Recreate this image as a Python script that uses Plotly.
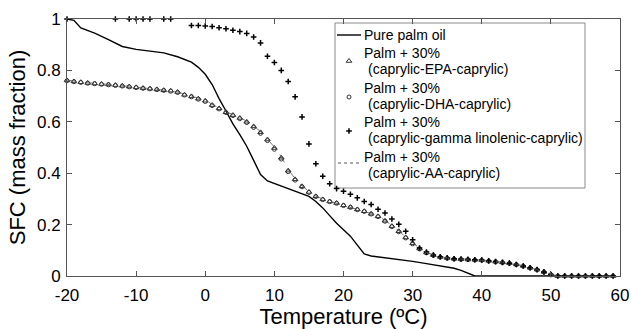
import plotly.graph_objects as go

# Temperature grid (°C) shared by the structured-lipid blends
temps = list(range(-20, 60))

# Pure palm oil solid fat content
palm_temps = [-20, -19, -18, -16, -14, -12, -10, -8, -6, -4, -2, -1, 0, 1, 2, 3, 4, 5,
              6, 7, 8, 9, 10, 12, 14, 15, 16, 17, 18, 19, 20, 21, 22, 23, 24, 26, 28,
              30, 32, 34, 36, 37, 38, 39, 45, 59]
palm_sfc = [1.0, 0.995, 0.965, 0.945, 0.92, 0.893, 0.882, 0.876, 0.868, 0.853, 0.832,
            0.812, 0.785, 0.745, 0.69, 0.642, 0.592, 0.55, 0.505, 0.45, 0.395, 0.37,
            0.36, 0.34, 0.322, 0.31, 0.29, 0.265, 0.235, 0.205, 0.18, 0.155, 0.12,
            0.086, 0.078, 0.072, 0.064, 0.057, 0.048, 0.04, 0.03, 0.022, 0.01, 0.0,
            0.0, 0.0]

# Palm + 30% caprylic-EPA-caprylic
epa_sfc = [0.761, 0.757, 0.754, 0.751, 0.749, 0.747, 0.745, 0.743, 0.740, 0.737,
           0.734, 0.731, 0.729, 0.726, 0.723, 0.721, 0.716, 0.705, 0.699, 0.690,
           0.682, 0.665, 0.652, 0.637, 0.626, 0.615, 0.600, 0.582, 0.559, 0.531,
           0.498, 0.460, 0.410, 0.376, 0.349, 0.327, 0.310, 0.298, 0.290, 0.284,
           0.275, 0.268, 0.259, 0.252, 0.242, 0.232, 0.215, 0.194, 0.174, 0.150,
           0.127, 0.107, 0.091, 0.081, 0.074, 0.070, 0.067, 0.065, 0.064, 0.063,
           0.062, 0.059, 0.056, 0.053, 0.050, 0.045, 0.039, 0.032, 0.025, 0.016,
           0.006, 0.0, 0.0, 0.0, 0.0, 0.0, 0.0, 0.0, 0.0, 0.0]

# Palm + 30% caprylic-DHA-caprylic
dha_sfc = [0.760, 0.756, 0.753, 0.750, 0.748, 0.746, 0.744, 0.741, 0.739, 0.736,
           0.733, 0.730, 0.728, 0.725, 0.722, 0.719, 0.714, 0.704, 0.697, 0.688,
           0.679, 0.663, 0.650, 0.636, 0.624, 0.612, 0.597, 0.578, 0.555, 0.527,
           0.493, 0.455, 0.406, 0.373, 0.347, 0.325, 0.309, 0.297, 0.289, 0.283,
           0.274, 0.267, 0.258, 0.251, 0.241, 0.231, 0.213, 0.192, 0.172, 0.148,
           0.125, 0.105, 0.090, 0.080, 0.073, 0.069, 0.066, 0.065, 0.064, 0.062,
           0.061, 0.058, 0.055, 0.052, 0.049, 0.044, 0.038, 0.031, 0.024, 0.015,
           0.005, 0.0, 0.0, 0.0, 0.0, 0.0, 0.0, 0.0, 0.0, 0.0]

# Palm + 30% caprylic-gamma linolenic-caprylic
gla_temps = [-20, -13, -11, -10, -9, -8, -6, -5, -2, -1, 0, 1, 2, 3, 4, 5, 6, 7, 8,
             9, 10, 11, 12, 13, 14, 15, 16, 17, 18, 19, 20, 21, 22, 23, 24, 25, 26,
             27, 28, 29, 30, 31, 32, 33, 34, 35, 36, 37, 38, 39, 40, 41, 42, 43, 44,
             45, 46, 47, 48, 49, 50, 51, 52, 53, 54, 55, 56, 57, 58, 59]
gla_sfc = [1.0, 1.0, 1.0, 1.0, 1.0, 1.0, 1.0, 1.0, 0.975, 0.975, 0.973, 0.971, 0.966,
           0.962, 0.956, 0.951, 0.944, 0.930, 0.907, 0.855, 0.831, 0.800, 0.757,
           0.697, 0.619, 0.514, 0.437, 0.388, 0.359, 0.340, 0.330, 0.318, 0.304,
           0.290, 0.278, 0.260, 0.245, 0.222, 0.201, 0.174, 0.141, 0.109, 0.093,
           0.082, 0.075, 0.071, 0.067, 0.066, 0.065, 0.063, 0.062, 0.059, 0.056,
           0.053, 0.050, 0.045, 0.039, 0.032, 0.025, 0.016, 0.006, 0.0, 0.0, 0.0,
           0.0, 0.0, 0.0, 0.0, 0.0, 0.0]

# Palm + 30% caprylic-AA-caprylic
aa_sfc = [0.762, 0.758, 0.755, 0.752, 0.750, 0.748, 0.746, 0.744, 0.741, 0.738,
          0.735, 0.732, 0.730, 0.727, 0.724, 0.722, 0.717, 0.707, 0.700, 0.692,
          0.683, 0.667, 0.654, 0.639, 0.628, 0.617, 0.602, 0.584, 0.562, 0.534,
          0.502, 0.464, 0.414, 0.379, 0.351, 0.329, 0.311, 0.299, 0.291, 0.285,
          0.276, 0.269, 0.260, 0.253, 0.243, 0.233, 0.217, 0.196, 0.176, 0.152,
          0.129, 0.108, 0.092, 0.082, 0.075, 0.071, 0.068, 0.066, 0.065, 0.064,
          0.063, 0.060, 0.057, 0.054, 0.051, 0.046, 0.040, 0.033, 0.026, 0.017,
          0.007, 0.0, 0.0, 0.0, 0.0, 0.0, 0.0, 0.0, 0.0, 0.0]

# Axis ticks
x_ticks = [-20, -10, 0, 10, 20, 30, 40, 50, 60]
x_ticktext = ["-20", "-10", "0", "10", "20", "30", "40", "50", "60"]
y_ticks = [0, 0.2, 0.4, 0.6, 0.8, 1]
y_ticktext = ["0", "0.2", "0.4", "0.6", "0.8", "1"]

# Legend entries: (first line, second line)
legend_labels = [
    ("Pure palm oil", None),
    ("Palm + 30%", "(caprylic-EPA-caprylic)"),
    ("Palm + 30%", "(caprylic-DHA-caprylic)"),
    ("Palm + 30%", "(caprylic-gamma linolenic-caprylic)"),
    ("Palm + 30%", "(caprylic-AA-caprylic)"),
]

FONT = "Liberation Sans, Arial, sans-serif"
AXIS_COLOR = "#555555"
MARK_COLOR = "#333333"

W, H = 631, 329
ML, MR, MT, MB = 67, 11, 19, 53
PW, PH = W - ML - MR, H - MT - MB


def fx(px):
    """Pixel column -> paper x."""
    return (px - ML) / PW


def fy(py):
    """Pixel row -> paper y."""
    return (H - MB - py) / PH


palm_line = dict(color="black", width=1.4)
epa_marker = dict(symbol="triangle-up-open", size=5, color=MARK_COLOR,
                  line=dict(width=1, color=MARK_COLOR))
dha_marker = dict(symbol="circle-open", size=4, color=MARK_COLOR,
                  line=dict(width=1, color=MARK_COLOR))
gla_marker = dict(symbol="cross-thin-open", size=4, color="black",
                  line=dict(width=1.5, color="black"))
aa_line = dict(color="#555555", width=0.8, dash="dash")

fig = go.Figure()

fig.add_trace(go.Scatter(x=palm_temps, y=palm_sfc, mode="lines", line=palm_line,
                         cliponaxis=False, showlegend=False))
fig.add_trace(go.Scatter(x=temps, y=epa_sfc, mode="markers", marker=epa_marker,
                         cliponaxis=False, showlegend=False))
fig.add_trace(go.Scatter(x=temps, y=dha_sfc, mode="markers", marker=dha_marker,
                         cliponaxis=False, showlegend=False))
fig.add_trace(go.Scatter(x=gla_temps, y=gla_sfc, mode="markers", marker=gla_marker,
                         cliponaxis=False, showlegend=False))
fig.add_trace(go.Scatter(x=temps, y=aa_sfc, mode="lines", line=aa_line,
                         cliponaxis=False, showlegend=False))

# ---- legend box (drawn by hand for compact MATLAB-like spacing) ----
box = dict(x0=335, x1=585, y0=23, y1=188)
fig.add_shape(type="rect", xref="paper", yref="paper",
              x0=fx(box["x0"]), x1=fx(box["x1"]), y0=fy(box["y1"]), y1=fy(box["y0"]),
              line=dict(color="#8a8a8a", width=1), fillcolor="white", layer="below")

line1_y = [35, 53, 88, 122, 157]
line2_dy = 16
text_x1, text_x2 = 362, 366
for (l1, l2), ty in zip(legend_labels, line1_y):
    fig.add_annotation(x=fx(text_x1), y=fy(ty), xref="paper", yref="paper",
                       text=l1, showarrow=False, xanchor="left", yanchor="middle",
                       font=dict(family=FONT, size=14, color="black"))
    if l2:
        fig.add_annotation(x=fx(text_x2), y=fy(ty + line2_dy), xref="paper", yref="paper",
                           text=l2, showarrow=False, xanchor="left", yanchor="middle",
                           font=dict(family=FONT, size=14, color="black"))

# legend keys: line samples as shapes, marker samples on an overlay axis in paper space
fig.add_shape(type="line", xref="paper", yref="paper",
              x0=fx(337), x1=fx(361), y0=fy(35), y1=fy(35), line=palm_line)
fig.add_shape(type="line", xref="paper", yref="paper",
              x0=fx(338), x1=fx(361), y0=fy(163), y1=fy(163),
              line=dict(color="#555555", width=1, dash="3px,3px"))

key_x = [fx(349), fx(349), fx(349)]
key_y = [fy(61), fy(97), fy(131)]
for kx, ky, mk in zip(key_x, key_y, [epa_marker, dha_marker, gla_marker]):
    fig.add_trace(go.Scatter(x=[kx], y=[ky], mode="markers", marker=mk,
                             xaxis="x2", yaxis="y2", showlegend=False,
                             hoverinfo="skip", cliponaxis=False))

axis_common = dict(
    showline=True, linecolor=AXIS_COLOR, linewidth=1, mirror="ticks",
    ticks="inside", ticklen=5, tickcolor=AXIS_COLOR, tickwidth=1,
    showgrid=False, zeroline=False, automargin=False,
    tickfont=dict(family=FONT, size=17, color="black"),
)

fig.update_layout(
    xaxis=dict(range=[-20, 60], tickvals=x_ticks, ticktext=x_ticktext,
               ticklabelstandoff=4,
               title=dict(text="Temperature (ºC)",
                          font=dict(family=FONT, size=22, color="black"), standoff=5),
               **axis_common),
    yaxis=dict(range=[0, 1], tickvals=y_ticks, ticktext=y_ticktext,
               ticklabelstandoff=2,
               title=dict(text="SFC (mass fraction)",
                          font=dict(family=FONT, size=22, color="black"), standoff=5),
               **axis_common),
    xaxis2=dict(range=[0, 1], overlaying="x", visible=False, fixedrange=True),
    yaxis2=dict(range=[0, 1], overlaying="y", visible=False, fixedrange=True),
    width=W, height=H,
    margin=dict(l=ML, r=MR, t=MT, b=MB, autoexpand=False),
    paper_bgcolor="white", plot_bgcolor="white",
    font=dict(family=FONT, color="black"),
    showlegend=False,
)

fig.write_html("out.html")
